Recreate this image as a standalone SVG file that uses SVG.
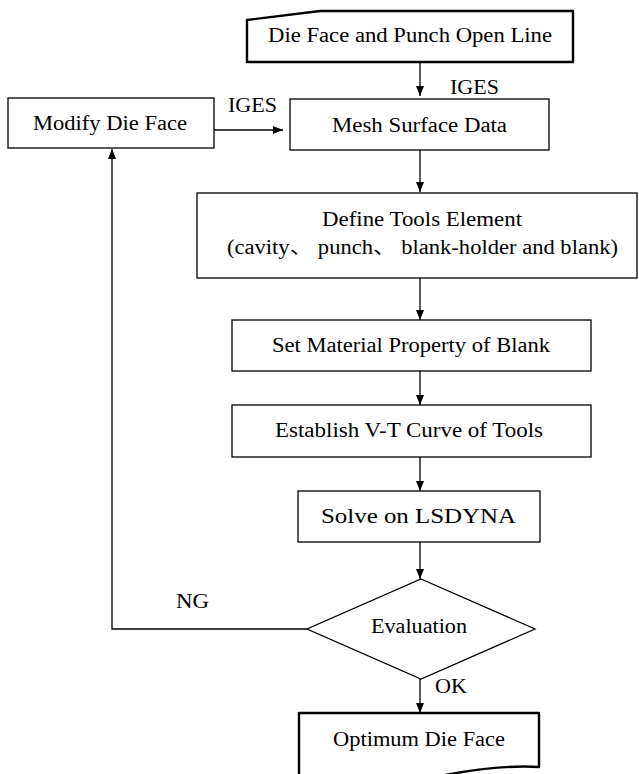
<svg xmlns="http://www.w3.org/2000/svg" width="639" height="774" viewBox="0 0 639 774">
  <defs>
    <marker id="arrow" markerUnits="userSpaceOnUse" markerWidth="10" markerHeight="10" viewBox="0 0 10 10" refX="10" refY="5" orient="auto">
      <path d="M0,1 L10,5 L0,9 Z" fill="#000"/>
    </marker>
  </defs>
  <style>
    .box { fill: #fff; stroke: #000; stroke-width: 1.3; }
    .term { fill: #fff; stroke: #000; stroke-width: 2.4; stroke-linejoin: round; }
    .edge { fill: none; stroke: #000; stroke-width: 1.3; }
    .arr { marker-end: url(#arrow); }
    .lbl { font-family: 'Liberation Serif', 'DejaVu Serif', 'Noto Sans CJK SC', serif; font-size: 20px; fill: #000; }
  </style>
  <rect width="639" height="774" fill="#fff"/>

  <!-- process steps -->
  <g id="start">
    <path class="term" d="M247,20 L320,11 L573,11 L573,62 L247,62 Z"/>
    <text class="lbl" x="268" y="42" textLength="284" lengthAdjust="spacingAndGlyphs">Die Face and Punch Open Line</text>
  </g>
  <g id="modify">
    <rect class="box" x="8" y="98" width="206" height="50"/>
    <text class="lbl" x="33" y="130" textLength="154" lengthAdjust="spacingAndGlyphs">Modify Die Face</text>
  </g>
  <g id="mesh">
    <rect class="box" x="290" y="99" width="259" height="51"/>
    <text class="lbl" x="332" y="132" textLength="175" lengthAdjust="spacingAndGlyphs">Mesh Surface Data</text>
  </g>
  <g id="define">
    <rect class="box" x="197" y="193" width="440" height="85"/>
    <text class="lbl" x="322" y="226" textLength="200" lengthAdjust="spacingAndGlyphs">Define Tools Element</text>
    <text class="lbl" x="227" y="254" textLength="391" lengthAdjust="spacingAndGlyphs">(cavity、 punch、 blank-holder and blank)</text>
  </g>
  <g id="material">
    <rect class="box" x="232" y="320" width="359" height="51"/>
    <text class="lbl" x="272" y="352" textLength="278" lengthAdjust="spacingAndGlyphs">Set Material Property of Blank</text>
  </g>
  <g id="vtcurve">
    <rect class="box" x="232" y="405" width="359" height="52"/>
    <text class="lbl" x="275" y="437" textLength="268" lengthAdjust="spacingAndGlyphs">Establish V-T Curve of Tools</text>
  </g>
  <g id="solve">
    <rect class="box" x="298" y="491" width="242" height="51"/>
    <text class="lbl" x="321" y="523" textLength="195" lengthAdjust="spacingAndGlyphs">Solve on LSDYNA</text>
  </g>
  <g id="evaluation">
    <path class="box" d="M421,579 L535,629 L421,679 L307,629 Z"/>
    <text class="lbl" x="371" y="633" textLength="96" lengthAdjust="spacingAndGlyphs">Evaluation</text>
  </g>
  <g id="result">
    <path class="term" d="M299,713 L539,713 L539,767 C505,765 470,770 440,776 C400,784 340,790 299,784 Z"/>
    <text class="lbl" x="333" y="746" textLength="172" lengthAdjust="spacingAndGlyphs">Optimum Die Face</text>
  </g>

  <!-- connectors -->
  <g id="connectors">
    <path class="edge arr" d="M420,62 V96"/>
    <path class="edge arr" d="M420,150 V192"/>
    <path class="edge arr" d="M420,278 V320"/>
    <path class="edge arr" d="M420,371 V405"/>
    <path class="edge arr" d="M420,457 V491"/>
    <path class="edge arr" d="M420,542 V579"/>
    <path class="edge arr" d="M420,679 V713"/>
    <path class="edge arr" d="M307,629 H112 V149"/>
    <path class="edge arr" d="M214,130 H283"/>
    <text class="lbl" x="450" y="94" textLength="49" lengthAdjust="spacingAndGlyphs">IGES</text>
    <text class="lbl" x="228" y="112" textLength="49" lengthAdjust="spacingAndGlyphs">IGES</text>
    <text class="lbl" x="176" y="608" textLength="33" lengthAdjust="spacingAndGlyphs">NG</text>
    <text class="lbl" x="435" y="693" textLength="32" lengthAdjust="spacingAndGlyphs">OK</text>
  </g>
</svg>
